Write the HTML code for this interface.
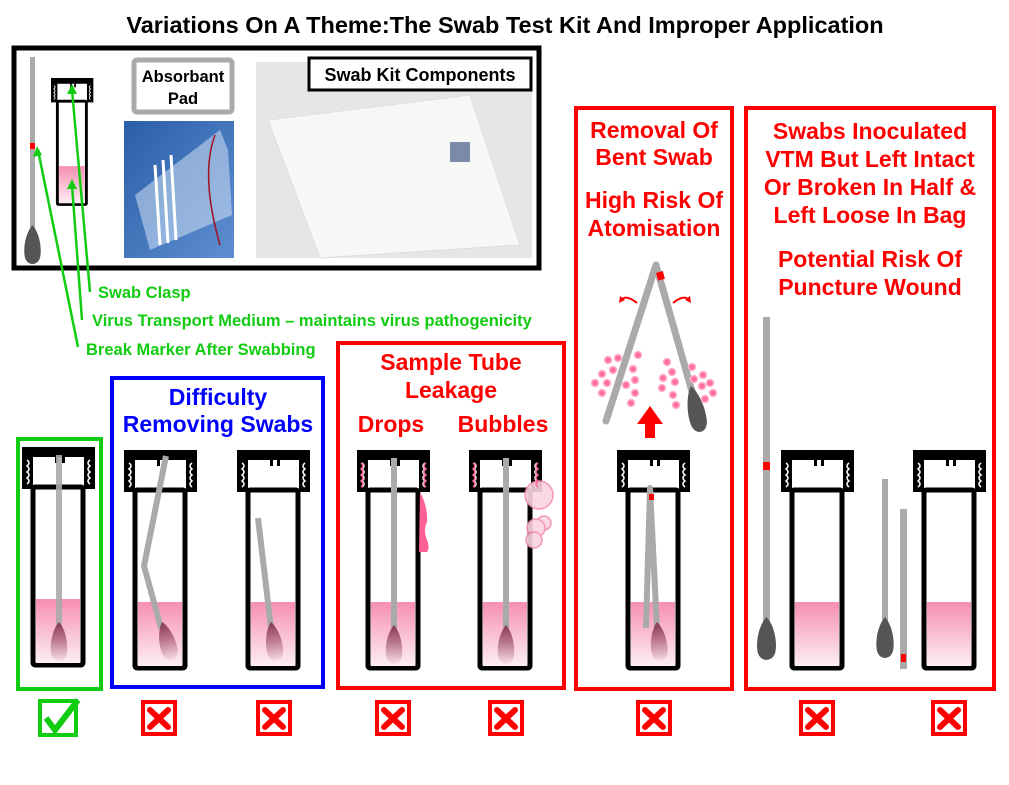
<!DOCTYPE html>
<html><head><meta charset="utf-8"><style>
html,body{margin:0;padding:0;background:#fff;}
svg{display:block;font-family:"Liberation Sans",sans-serif;font-weight:bold;}
</style></head><body>
<svg width="1009" height="785" viewBox="0 0 1009 785" xmlns="http://www.w3.org/2000/svg">
<defs>
<linearGradient id="liq" x1="0" y1="0" x2="0" y2="1"><stop offset="0" stop-color="#f78fb0"/><stop offset="1" stop-color="#fdeef3"/></linearGradient>
<linearGradient id="head" x1="0" y1="0" x2="0" y2="1"><stop offset="0" stop-color="#8a3a56"/><stop offset="1" stop-color="#8a3a56" stop-opacity="0.05"/></linearGradient>
<linearGradient id="bag" x1="0" y1="0" x2="1" y2="1"><stop offset="0" stop-color="#2a5ea8"/><stop offset="1" stop-color="#5f8fd0"/></linearGradient>
<path id="hd" d="M0,0 C-7,8 -9,22 -8,30 C-7,42 7,42 8,30 C9,22 7,8 0,0 Z"/>
<g id="tube">
  <rect x="11" y="40" width="50" height="178" rx="2" fill="#fff" stroke="#000" stroke-width="5"/>
  <path d="M0,0 H73 V42 H62 V10 H11 V42 H0 Z" fill="#000"/>
  <rect x="33" y="8" width="3" height="8" fill="#000"/><rect x="40" y="8" width="3" height="8" fill="#000"/>
  <path d="M5,13 q4,3 0,6 q4,3 0,6 q4,3 0,6 q4,3 0,6" stroke="#fff" stroke-width="1.5" fill="none"/>
  <path d="M68,13 q-4,3 0,6 q-4,3 0,6 q-4,3 0,6 q-4,3 0,6" stroke="#fff" stroke-width="1.5" fill="none"/>
</g>
<g id="liquid"><rect x="14" y="152" width="44" height="64" fill="url(#liq)"/></g>
<g id="xmark"><rect x="2" y="2" width="32" height="32" fill="#fff" stroke="#f00" stroke-width="4"/><path d="M9,10 L27,27 M27,10 L9,27" stroke="#f00" stroke-width="6" stroke-linecap="round"/></g>
</defs>

<text x="505" y="33" font-size="23.5" text-anchor="middle" fill="#000">Variations On A Theme:The Swab Test Kit And Improper Application</text>

<!-- top black box -->
<rect x="14" y="48" width="525" height="220" fill="#fff" stroke="#000" stroke-width="5"/>
<rect x="30" y="57" width="5" height="180" fill="#aaa"/>
<rect x="30" y="143" width="5" height="6" fill="#f00"/>
<use href="#hd" x="32.5" y="225" fill="#555"/>
<g transform="translate(51,78) scale(0.58)"><use href="#tube"/><use href="#liquid"/></g>
<rect x="134" y="60" width="98" height="52" rx="3" fill="#fff" stroke="#aaa" stroke-width="5"/>
<text x="183" y="82" font-size="16.5" text-anchor="middle">Absorbant</text>
<text x="183" y="104" font-size="16.5" text-anchor="middle">Pad</text>
<rect x="124" y="121" width="110" height="137" fill="url(#bag)"/>
<path d="M135,195 L220,130 L228,150 L232,215 L150,250 Z" fill="#cfe0f5" opacity="0.55"/>
<path d="M155,165 L160,245 M163,160 L168,243 M171,155 L176,240" stroke="#fff" stroke-width="3"/>
<path d="M215,135 q-15,40 5,110" stroke="#a01020" stroke-width="1.5" fill="none"/>
<rect x="256" y="62" width="276" height="196" fill="#e6e6e4"/>
<path d="M268,120 L470,95 L520,245 L320,258 Z" fill="#f7f7f5" stroke="#ddd"/>
<rect x="450" y="142" width="20" height="20" fill="#7a8aa8"/>
<rect x="309" y="58" width="222" height="32" fill="#fff" stroke="#000" stroke-width="3"/>
<text x="420" y="81" font-size="18" text-anchor="middle">Swab Kit Components</text>

<!-- green labels -->
<g stroke="#1c1" stroke-width="2.5" fill="none">
<path d="M90,292 L72,90"/><path d="M82,320 L72,185"/><path d="M78,347 L38,150"/>
</g>
<path d="M72,84 l-5,10 h10z M72,179 l-5,10 h10z M37,146 l-4,11 l9,-2z" fill="#1c1"/>
<g fill="#1c1" font-size="16.5">
<text x="98" y="298">Swab Clasp</text>
<text x="92" y="326">Virus Transport Medium – maintains virus pathogenicity</text>
<text x="86" y="355">Break Marker After Swabbing</text>
</g>

<!-- boxes -->
<rect x="18" y="439" width="83" height="250" fill="none" stroke="#1c1" stroke-width="4"/>
<rect x="112" y="378" width="211" height="309" fill="none" stroke="#00f" stroke-width="4"/>
<rect x="338" y="343" width="226" height="345" fill="none" stroke="#f00" stroke-width="4"/>
<rect x="576" y="108" width="156" height="581" fill="none" stroke="#f00" stroke-width="4"/>
<rect x="746" y="108" width="248" height="581" fill="none" stroke="#f00" stroke-width="4"/>

<g font-size="23" text-anchor="middle">
<text x="218" y="405" fill="#00f">Difficulty</text>
<text x="218" y="432" fill="#00f">Removing Swabs</text>
<text x="451" y="370" fill="#f00">Sample Tube</text>
<text x="451" y="398" fill="#f00">Leakage</text>
<text x="391" y="432" fill="#f00">Drops</text>
<text x="503" y="432" fill="#f00">Bubbles</text>
<text x="654" y="138" fill="#f00">Removal Of</text>
<text x="654" y="165" fill="#f00">Bent Swab</text>
<text x="654" y="208" fill="#f00">High Risk Of</text>
<text x="654" y="236" fill="#f00">Atomisation</text>
<text x="870" y="139" fill="#f00">Swabs Inoculated</text>
<text x="870" y="167" fill="#f00">VTM But Left Intact</text>
<text x="870" y="195" fill="#f00">Or Broken In Half &amp;</text>
<text x="870" y="223" fill="#f00">Left Loose In Bag</text>
<text x="870" y="267" fill="#f00">Potential Risk Of</text>
<text x="870" y="295" fill="#f00">Puncture Wound</text>
</g>

<!-- tube 1 -->
<g transform="translate(22,447)"><use href="#tube"/><use href="#liquid"/>
<rect x="34" y="8" width="6" height="172" fill="#aaa" opacity="0.9"/>
<use href="#hd" x="37" y="175" fill="url(#head)"/></g>
<!-- tube 2 -->
<g transform="translate(124,450)"><use href="#tube"/><use href="#liquid"/>
<path d="M42,6 L20,116 L37,178" stroke="#aaa" stroke-width="6" fill="none" stroke-linejoin="round"/>
<use href="#hd" x="0" y="0" fill="url(#head)" transform="translate(38,172) rotate(-15)"/></g>
<!-- tube 3 -->
<g transform="translate(237,450)"><use href="#tube"/><use href="#liquid"/>
<path d="M21,68 L34,178" stroke="#aaa" stroke-width="6"/>
<use href="#hd" fill="url(#head)" transform="translate(34,172) rotate(-8)"/></g>
<!-- tube 4 drops -->
<g transform="translate(357,450)"><use href="#tube"/><use href="#liquid"/>
<rect x="34" y="8" width="6" height="172" fill="#aaa"/>
<use href="#hd" x="37" y="175" fill="url(#head)"/>
<path d="M63,42 q8,15 7,30 q-4,8 0,18 q3,8 0,12 L62,102 Z" fill="#ff5f98"/>
<path d="M4,13 q4,3 0,6 q4,3 0,6 q4,3 0,6 q4,3 0,6 M69,13 q-4,3 0,6 q-4,3 0,6 q-4,3 0,6 q-4,3 0,6" stroke="#ff5f98" stroke-width="1.5" fill="none"/></g>
<!-- tube 5 bubbles -->
<g transform="translate(469,450)"><use href="#tube"/><use href="#liquid"/>
<rect x="34" y="8" width="6" height="172" fill="#aaa"/>
<use href="#hd" x="37" y="175" fill="url(#head)"/>
<g fill="#fbd3e1" stroke="#f48ab0" stroke-width="1.5" opacity="0.9">
<circle cx="70" cy="45" r="14"/><circle cx="75" cy="73" r="7"/><circle cx="67" cy="78" r="9"/><circle cx="65" cy="90" r="8"/></g>
<path d="M4,13 q4,3 0,6 q4,3 0,6 q4,3 0,6 q4,3 0,6 M69,13 q-4,3 0,6 q-4,3 0,6 q-4,3 0,6 q-4,3 0,6" stroke="#ff5f98" stroke-width="1.5" fill="none"/></g>
<!-- tube 6 removal -->
<g transform="translate(617,450)"><use href="#tube"/><use href="#liquid"/>
<path d="M29,178 L33,38 L40,178" stroke="#aaa" stroke-width="6" fill="none" stroke-linejoin="round"/>
<rect x="32" y="44" width="5" height="6" fill="#f00"/>
<use href="#hd" fill="url(#head)" transform="translate(40,172) rotate(-5)"/></g>
<!-- bent swab -->
<path d="M606,421 L656,265 L693,395" stroke="#aaa" stroke-width="7" fill="none" stroke-linecap="round" stroke-linejoin="round"/>
<rect x="657" y="272" width="7" height="8" fill="#f00" transform="rotate(-16 660 276)"/>
<use href="#hd" fill="#555" transform="translate(691,386) rotate(-12) scale(1.05,1.2)"/>
<path d="M650,406 l-13,18 h8 v14 h10 v-14 h8z" fill="#f00"/>
<path d="M637,303 q-10,-8 -15,-4 M673,303 q10,-8 15,-4" stroke="#f00" stroke-width="2" fill="none"/>
<path d="M620,296 l-1,7 l6,-3z M690,296 l1,7 l-6,-3z" fill="#f00"/>
<g fill="#ff6fa0" stroke="#ffb3cd" stroke-width="1.5">
<circle cx="608" cy="360" r="3.5"/><circle cx="618" cy="358" r="3.5"/><circle cx="638" cy="355" r="3.5"/><circle cx="602" cy="374" r="3.5"/><circle cx="613" cy="370" r="3.5"/><circle cx="633" cy="369" r="3.5"/><circle cx="595" cy="383" r="3.5"/><circle cx="607" cy="383" r="3.5"/><circle cx="635" cy="380" r="3.5"/><circle cx="626" cy="385" r="3.5"/><circle cx="602" cy="393" r="3.5"/><circle cx="635" cy="393" r="3.5"/><circle cx="631" cy="403" r="3.5"/>
<circle cx="667" cy="362" r="3.5"/><circle cx="692" cy="367" r="3.5"/><circle cx="672" cy="372" r="3.5"/><circle cx="703" cy="375" r="3.5"/><circle cx="663" cy="378" r="3.5"/><circle cx="675" cy="382" r="3.5"/><circle cx="694" cy="379" r="3.5"/><circle cx="710" cy="383" r="3.5"/><circle cx="662" cy="388" r="3.5"/><circle cx="702" cy="386" r="3.5"/><circle cx="713" cy="393" r="3.5"/><circle cx="673" cy="395" r="3.5"/><circle cx="705" cy="399" r="3.5"/><circle cx="676" cy="405" r="3.5"/>
</g>
<!-- last box -->
<rect x="763" y="317" width="7" height="310" fill="#aaa"/>
<rect x="763" y="462" width="7" height="8" fill="#f00"/>
<use href="#hd" fill="#555" transform="translate(766.5,617) scale(1.15,1.1)"/>
<g transform="translate(781,450)"><use href="#tube"/><use href="#liquid"/></g>
<rect x="882" y="479" width="6" height="145" fill="#aaa"/>
<use href="#hd" fill="#555" transform="translate(885,617) scale(1.05,1.05)"/>
<rect x="900" y="509" width="7" height="160" fill="#aaa"/>
<rect x="901" y="654" width="5" height="8" fill="#f00"/>
<g transform="translate(913,450)"><use href="#tube"/><use href="#liquid"/></g>

<!-- marks -->
<rect x="40" y="701" width="36" height="34" fill="#fff" stroke="#1c1" stroke-width="4"/>
<path d="M46,718 L55,730 L78,700" stroke="#1c1" stroke-width="6" fill="none"/>
<use href="#xmark" x="141" y="700"/>
<use href="#xmark" x="256" y="700"/>
<use href="#xmark" x="375" y="700"/>
<use href="#xmark" x="488" y="700"/>
<use href="#xmark" x="636" y="700"/>
<use href="#xmark" x="799" y="700"/>
<use href="#xmark" x="931" y="700"/>
</svg>
</body></html>
